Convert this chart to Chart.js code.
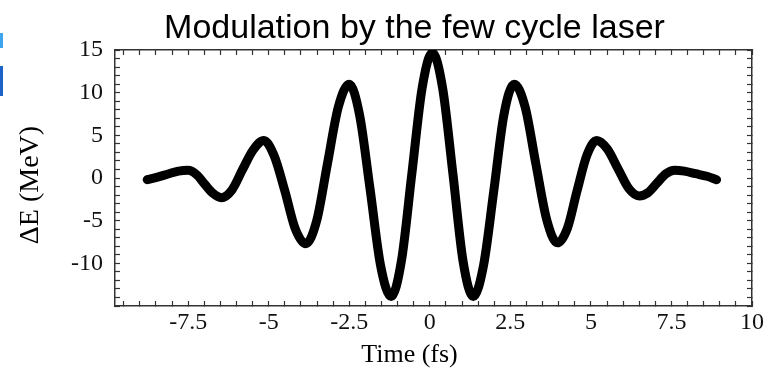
<!DOCTYPE html>
<html>
<head>
<meta charset="utf-8">
<script src="https://cdn.jsdelivr.net/npm/chart.js@4.4.1/dist/chart.umd.min.js"></script>
<style>
  html, body { margin: 0; padding: 0; background: #fff; }
  #wrap { position: relative; width: 771px; height: 371px; }
  .edge { position: absolute; left: 0; width: 3px; }
</style>
</head>
<body>
<div id="wrap">
  <canvas id="chart" width="771" height="371"></canvas>
  <div class="edge" style="top:33px;height:15px;background:#3da5ee"></div>
  <div class="edge" style="top:66px;height:30px;background:#1b63c9"></div>
</div>
<script>
const titleText = 'Modulation by the few cycle laser'
const xTitle = 'Time (fs)'
const yTitle = 'ΔE (MeV)'

// energy modulation vs time, read along the centre of the trace
const timeFs = [
  -8.77, -8.45, -8.1, -7.8, -7.5, -7.24, -6.99, -6.73, -6.47, -6.14,
  -5.81, -5.48, -5.15, -4.83, -4.5, -4.18, -3.85, -3.51, -3.18, -2.84,
  -2.5, -2.18, -1.85, -1.53, -1.2, -0.88, -0.56, -0.24, 0.08, 0.4,
  0.72, 1.03, 1.35, 1.67, 1.99, 2.3, 2.62, 2.96, 3.29, 3.63,
  3.96, 4.27, 4.57, 4.88, 5.18, 5.51, 5.84, 6.17, 6.5, 6.78,
  7.05, 7.33, 7.6, 7.9, 8.25, 8.6, 8.9
]
const deltaE = [
  -0.2, 0.1, 0.5, 0.8, 0.9, 0.4, -0.7, -1.8, -2.3, -1.4,
  1.0, 3.3, 4.4, 2.6, -1.5, -5.9, -7.7, -5.0, 1.6, 8.3,
  11.0, 7.4, -1.4, -10.2, -13.9, -9.7, 0.4, 10.5, 14.7, 10.5,
  0.4, -9.7, -13.9, -10.2, -1.4, 7.4, 11.0, 8.3, 1.7, -4.9,
  -7.6, -5.9, -1.5, 2.7, 4.4, 3.4, 1.1, -1.2, -2.1, -1.7,
  -0.6, 0.5, 0.9, 0.8, 0.5, 0.2, -0.2
]

const xMin = -9.77, xMax = 10
const yMin = -15, yMax = 15
const xLabelStep = 2.5
const yLabelStep = 5

const points = timeFs.map((t, i) => ({ x: t, y: deltaE[i] }))

const tickFont = { family: '"Liberation Serif", "Times New Roman", serif', size: 24 }
const frame = '#333'

// frame with inward tick marks on every side
function frameAxis(position, min, max, step, labels) {
  const horizontal = position === 'top' || position === 'bottom'
  return {
    type: 'linear',
    position: position,
    min: min,
    max: max,
    border: { display: true, color: frame, width: 1.5 },
    grid: {
      drawOnChartArea: false,
      drawTicks: true,
      tickLength: -5,
      tickColor: frame,
      tickWidth: 1.2
    },
    ticks: {
      display: labels,
      stepSize: step,
      includeBounds: false,
      autoSkip: false,
      maxRotation: 0,
      color: '#111',
      font: tickFont,
      padding: horizontal ? 7 : 17,
      callback: (v) => {
        const s = horizontal ? xLabelStep : yLabelStep
        const r = Math.round(v / s)
        if (Math.abs(v / s - r) > 1e-6) return ''
        if (!horizontal && v <= yMin) return ''
        return String(r * s)
      }
    },
    afterFit: (scale) => {
      if (position === 'left') scale.width = 115
      if (position === 'bottom') scale.height = 65
      if (position === 'top') scale.height = 0
      if (position === 'right') scale.width = 0
    }
  }
}

const captions = {
  id: 'captions',
  afterDraw(chart) {
    const { ctx, chartArea: a } = chart
    const mid = (a.left + a.right) / 2
    ctx.save()
    ctx.fillStyle = '#000'
    ctx.textAlign = 'center'
    ctx.textBaseline = 'alphabetic'
    ctx.font = '34px "Liberation Sans", Arial, sans-serif'
    ctx.fillText(titleText, mid - 19, a.top - 12)
    ctx.textBaseline = 'middle'
    ctx.font = '26px "Liberation Serif", "Times New Roman", serif'
    ctx.fillText(xTitle, mid - 24, a.bottom + 49)
    ctx.translate(31, (a.top + a.bottom) / 2 + 7)
    ctx.rotate(-Math.PI / 2)
    ctx.font = '28px "Liberation Serif", "Times New Roman", serif'
    ctx.fillText(yTitle, 0, 0)
    ctx.restore()
  }
}

const ctx = document.getElementById('chart').getContext('2d')
const chart = new Chart(ctx, {
  type: 'line',
  data: {
    datasets: [
      {
        label: yTitle,
        data: points,
        xAxisID: 'x',
        yAxisID: 'y',
        borderColor: '#000',
        borderWidth: 9,
        borderCapStyle: 'round',
        borderJoinStyle: 'round',
        cubicInterpolationMode: 'monotone',
        pointRadius: 0,
        fill: false
      }
    ]
  },
  options: {
    responsive: false,
    animation: false,
    layout: { padding: { top: 50, right: 14, bottom: 0, left: 0 } },
    plugins: {
      legend: { display: false },
      tooltip: { enabled: false }
    },
    scales: {
      x: frameAxis('bottom', xMin, xMax, 0.5, true),
      y: frameAxis('left', yMin, yMax, 1, true),
      x2: frameAxis('top', xMin, xMax, 0.5, false),
      y2: frameAxis('right', yMin, yMax, 1, false)
    }
  },
  plugins: [captions]
})
</script>
</body>
</html>
